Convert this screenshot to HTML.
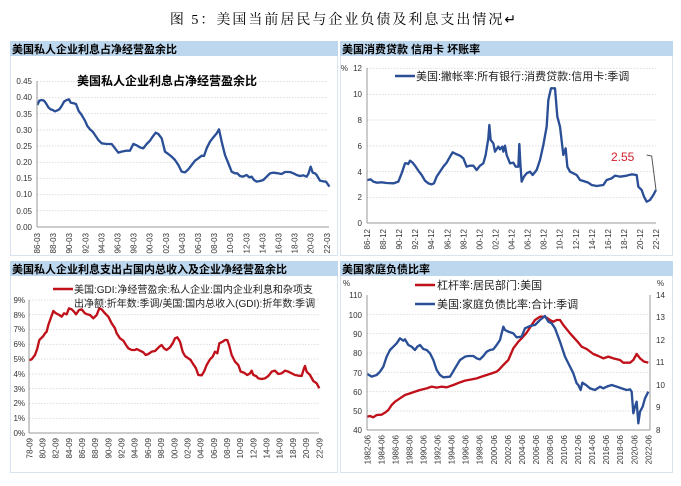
<!DOCTYPE html>
<html><head><meta charset="utf-8"><style>
body{margin:0;background:#fff;}
svg{display:block;font-family:"Liberation Sans","Noto Sans CJK SC",sans-serif;}
.t{font-size:8px;fill:#333;}
.h{font-size:11px;font-weight:bold;fill:#000;}
.g{stroke:#ccc;stroke-width:3;stroke-dasharray:3 6;}
</style></head><body>
<svg width="681" height="486" viewBox="0 0 681 486">
<text x="344" y="24" text-anchor="middle" style="font-family:'Liberation Serif','Noto Serif CJK SC',serif;font-size:14px;letter-spacing:2px" fill="#000">图 5：美国当前居民与企业负债及利息支出情况↵</text>
<!-- panels -->
<rect x="10.5" y="41.5" width="327" height="214" fill="#fff" stroke="#d8e4f0"/>
<rect x="340.5" y="41.5" width="332" height="214" fill="#fff" stroke="#d8e4f0"/>
<rect x="10.5" y="261.5" width="327" height="211" fill="#fff" stroke="#d8e4f0"/>
<rect x="340.5" y="261.5" width="332" height="211" fill="#fff" stroke="#d8e4f0"/>
<rect x="10" y="41" width="328" height="15" fill="#bdd7ee"/>
<rect x="340" y="41" width="333" height="15" fill="#bdd7ee"/>
<rect x="10" y="261" width="328" height="15" fill="#bdd7ee"/>
<rect x="340" y="261" width="333" height="15" fill="#bdd7ee"/>
<text x="12" y="53" class="h">美国私人企业利息占净经营盈余比</text>
<text x="342" y="53" class="h">美国消费贷款 信用卡 坏账率</text>
<text x="12" y="273" class="h">美国私人企业利息支出占国内总收入及企业净经营盈余比</text>
<text x="342" y="273" class="h">美国家庭负债比率</text>

<!-- chart1 -->
<g transform="scale(0.33333)">
<g class="g"><line x1="112" x2="985" y1="245" y2="245"/><line x1="112" x2="985" y1="293" y2="293"/><line x1="112" x2="985" y1="341" y2="341"/><line x1="112" x2="985" y1="390" y2="390"/><line x1="112" x2="985" y1="438" y2="438"/><line x1="112" x2="985" y1="487" y2="487"/><line x1="112" x2="985" y1="535" y2="535"/><line x1="112" x2="985" y1="584" y2="584"/><line x1="112" x2="985" y1="632" y2="632"/></g>
<polyline fill="none" stroke="#2a4f96" stroke-width="7" stroke-linejoin="round" points="112,315 118,302 125,300 132,302 138,310 145,322 152,328 158,330 165,334 170,332 178,328 185,318 192,305 200,300 207,298 212,308 222,310 228,312 236,333 245,345 255,362 262,378 270,388 278,395 285,405 295,420 305,430 320,432 335,432 345,445 355,458 365,455 380,452 390,452 400,432 410,436 420,442 430,445 440,432 450,422 458,410 467,398 475,402 485,415 495,455 505,462 515,470 525,480 535,495 545,515 555,517 565,508 575,495 585,482 595,475 605,467 612,468 620,445 630,425 640,412 650,400 657,388 665,425 675,465 685,490 695,515 705,520 712,520 720,528 728,530 735,527 740,525 748,532 755,530 762,540 770,545 780,543 790,540 800,530 810,520 820,518 835,520 845,522 855,516 870,516 880,520 890,525 900,528 910,526 920,530 925,522 932,500 938,518 945,520 950,525 960,542 970,544 978,545 985,555 988,560"/>
</g>
<line x1="37" y1="81" x2="37" y2="227" stroke="#999"/><line x1="37" y1="227" x2="329" y2="227" stroke="#999"/>
<text x="77" y="85" style="font-size:12px;font-weight:bold" fill="#000">美国私人企业利息占净经营盈余比</text>
<g class="t" text-anchor="end">
<text x="32" y="84">0.45</text><text x="32" y="100">0.40</text><text x="32" y="117">0.35</text><text x="32" y="133">0.30</text><text x="32" y="149">0.25</text><text x="32" y="165">0.20</text><text x="32" y="181">0.15</text><text x="32" y="197">0.10</text><text x="32" y="214">0.05</text><text x="32" y="230">0.00</text>
</g>
<g class="t" text-anchor="end" id="x1"></g>

<!-- chart2 -->
<g transform="translate(340,0) scale(0.33333)">
<g class="g"><line x1="82" x2="948" y1="205" y2="205"/><line x1="82" x2="948" y1="283" y2="283"/><line x1="82" x2="948" y1="360" y2="360"/><line x1="82" x2="948" y1="438" y2="438"/><line x1="82" x2="948" y1="515" y2="515"/><line x1="82" x2="948" y1="593" y2="593"/></g>
<polyline fill="none" stroke="#2a4f96" stroke-width="7" stroke-linejoin="round" points="82,540 92,538 100,545 110,548 125,547 140,549 160,550 175,545 185,520 195,490 200,490 205,492 210,482 218,488 225,497 235,512 245,525 255,542 265,550 275,553 282,550 290,530 300,515 310,500 320,488 330,470 338,457 348,462 360,467 370,475 380,500 390,497 400,497 410,510 420,497 430,490 437,465 445,415 448,375 452,420 460,430 465,455 475,440 480,448 487,440 490,455 495,437 500,465 510,490 520,488 527,500 535,500 538,432 541,490 545,545 552,530 560,520 570,515 578,525 590,510 600,480 610,435 620,380 625,300 633,265 645,265 652,350 660,380 670,465 677,445 682,500 690,515 700,520 710,525 720,540 730,543 745,548 755,555 770,558 790,555 800,540 815,535 825,527 840,530 860,527 875,523 890,525 895,560 905,570 912,590 920,605 930,600 940,585 948,570"/>
<polyline fill="none" stroke="#555" stroke-width="3" points="920,465 935,468 948,570"/>
</g>
<line x1="367" y1="68" x2="367" y2="223" stroke="#999"/><line x1="367" y1="223" x2="656" y2="223" stroke="#999"/>
<text x="611" y="161" style="font-size:12px" fill="#d0202a">2.55</text>
<line x1="395" y1="76" x2="415" y2="76" stroke="#2a4f96" stroke-width="2.5"/>
<text x="416" y="80" style="font-size:11px" fill="#222">美国:撇帐率:所有银行:消费贷款:信用卡:季调</text>
<g class="t" text-anchor="end">
<text x="348" y="71">%</text><text x="362" y="71">12</text><text x="362" y="97">10</text><text x="362" y="123">8</text><text x="362" y="149">6</text><text x="362" y="175">4</text><text x="362" y="200">2</text><text x="362" y="226">0</text>
</g>

<!-- chart3 -->
<g transform="translate(0,250) scale(0.33333)">
<g class="g"><line x1="88" x2="958" y1="150" y2="150"/><line x1="88" x2="958" y1="194" y2="194"/><line x1="88" x2="958" y1="239" y2="239"/><line x1="88" x2="958" y1="283" y2="283"/><line x1="88" x2="958" y1="327" y2="327"/><line x1="88" x2="958" y1="372" y2="372"/><line x1="88" x2="958" y1="416" y2="416"/><line x1="88" x2="958" y1="460" y2="460"/><line x1="88" x2="958" y1="505" y2="505"/></g>
<polyline fill="none" stroke="#c0101a" stroke-width="7" stroke-linejoin="round" points="88,330 95,328 105,315 112,295 118,270 125,263 130,258 135,250 140,245 145,225 152,205 160,183 168,190 178,195 185,200 192,190 200,193 207,175 215,178 222,185 228,193 237,180 245,178 255,190 262,193 270,195 280,205 290,195 298,175 305,178 315,190 325,200 335,220 345,235 350,250 360,265 370,272 378,285 385,295 395,300 405,300 410,297 420,302 430,307 437,315 445,312 455,305 465,303 478,290 485,285 492,295 500,300 510,292 518,280 525,265 532,262 540,275 548,305 555,318 565,325 572,330 578,340 588,355 595,375 605,376 612,365 620,345 630,328 638,320 645,305 652,310 658,280 668,275 675,270 682,270 688,288 695,315 705,335 715,345 722,365 732,368 742,375 750,370 755,362 760,375 768,378 775,385 785,387 795,385 805,378 815,365 825,362 835,372 845,370 855,362 865,365 875,370 885,375 895,377 905,378 912,355 915,348 920,365 930,375 940,393 950,400 958,415"/>
</g>
<line x1="29" y1="300" x2="29" y2="433" stroke="#999"/><line x1="29" y1="433" x2="319" y2="433" stroke="#999"/>
<line x1="53" y1="289" x2="73" y2="289" stroke="#c0101a" stroke-width="2.5"/>
<text x="74" y="293" style="font-size:10px" fill="#222">美国:GDI:净经营盈余:私人企业:国内企业利息和杂项支</text>
<text x="74" y="307" style="font-size:10px" fill="#222">出净额:折年数:季调/美国:国内总收入(GDI):折年数:季调</text>
<g class="t" text-anchor="end">
<text x="25" y="303">9%</text><text x="25" y="318">8%</text><text x="25" y="332">7%</text><text x="25" y="347">6%</text><text x="25" y="362">5%</text><text x="25" y="377">4%</text><text x="25" y="392">3%</text><text x="25" y="406">2%</text><text x="25" y="421">1%</text><text x="25" y="436">0%</text>
</g>

<!-- chart4 -->
<g transform="translate(340,250) scale(0.33333)">
<g class="g"><line x1="82" x2="930" y1="193" y2="193"/><line x1="82" x2="930" y1="251" y2="251"/><line x1="82" x2="930" y1="309" y2="309"/><line x1="82" x2="930" y1="367" y2="367"/><line x1="82" x2="930" y1="425" y2="425"/><line x1="82" x2="930" y1="483" y2="483"/></g>
<polyline fill="none" stroke="#c0101a" stroke-width="7" stroke-linejoin="round" points="82,500 90,498 100,502 110,495 125,494 135,488 145,480 155,465 165,455 180,445 195,435 210,430 225,425 240,420 260,415 275,410 290,413 305,410 320,412 340,405 360,397 375,392 395,388 410,385 425,380 440,375 455,370 470,365 478,358 490,345 505,330 520,295 535,275 545,265 560,248 575,225 585,210 600,200 612,200 620,203 630,210 640,215 650,210 660,210 670,225 690,250 710,272 725,290 740,297 760,312 775,318 790,325 805,320 820,325 840,330 850,338 870,338 880,330 890,312 900,325 912,335 925,338"/>
<polyline fill="none" stroke="#2a4f96" stroke-width="7" stroke-linejoin="round" points="82,372 95,380 110,375 120,365 130,350 140,320 150,300 160,290 170,280 180,265 190,272 195,268 205,285 215,290 225,300 232,290 240,285 250,297 260,300 270,310 280,330 290,360 300,375 310,382 330,380 345,355 360,330 375,320 385,318 400,318 410,325 420,328 430,318 440,305 450,300 460,298 470,285 480,270 490,230 495,240 505,245 520,250 530,262 545,260 555,235 570,228 585,225 600,210 615,198 625,215 635,220 645,235 660,275 675,320 690,350 700,370 710,400 715,405 722,420 727,398 738,405 750,415 765,420 780,410 790,415 800,410 815,405 830,410 845,415 860,420 870,418 875,425 880,490 885,470 890,455 895,520 900,485 908,470 915,445 925,425"/>
</g>
<line x1="367" y1="295" x2="367" y2="430" stroke="#999"/><line x1="650" y1="295" x2="650" y2="430" stroke="#999"/><line x1="367" y1="430" x2="650" y2="430" stroke="#999"/>
<line x1="415" y1="285" x2="435" y2="285" stroke="#c0101a" stroke-width="2.5"/>
<text x="437" y="289" style="font-size:11px" fill="#222">杠杆率:居民部门:美国</text>
<line x1="415" y1="304" x2="435" y2="304" stroke="#2a4f96" stroke-width="2.5"/>
<text x="437" y="308" style="font-size:11px" fill="#222">美国:家庭负债比率:合计:季调</text>
<g class="t">
<text x="343" y="286">%</text><text x="657" y="286">%</text>
<text x="362" y="298" text-anchor="end">110</text><text x="362" y="318" text-anchor="end">100</text><text x="362" y="337" text-anchor="end">90</text><text x="362" y="356" text-anchor="end">80</text><text x="362" y="376" text-anchor="end">70</text><text x="362" y="395" text-anchor="end">60</text><text x="362" y="414" text-anchor="end">50</text><text x="362" y="433" text-anchor="end">40</text>
<text x="656" y="298">14</text><text x="656" y="320">13</text><text x="656" y="343">12</text><text x="656" y="365">11</text><text x="656" y="388">10</text><text x="656" y="410">9</text><text x="656" y="433">8</text>
</g>
<g id="xl" class="t" text-anchor="end"></g>
</svg>
<script>
(function(){
var ns="http://www.w3.org/2000/svg",g=document.getElementById("xl");
function add(x,y,s){var t=document.createElementNS(ns,"text");t.setAttribute("transform","translate("+(x+3)+","+y+") rotate(-90)");t.textContent=s;g.appendChild(t);}
function p(n){n=n%100;return (n<10?"0":"")+n;}
for(var i=0;i<19;i++){add(37+i*16.1,233,p(86+2*i)+"-03");add(367+i*16.06,229,p(86+2*i)+"-12");}
for(var i=0;i<23;i++){add(29.3+i*13.18,438,p(78+2*i)+"-09");}
for(var i=0;i<21;i++){add(367.3+i*14.05,435,(1982+2*i)+"-06");}
})();
</script>
</body></html>
